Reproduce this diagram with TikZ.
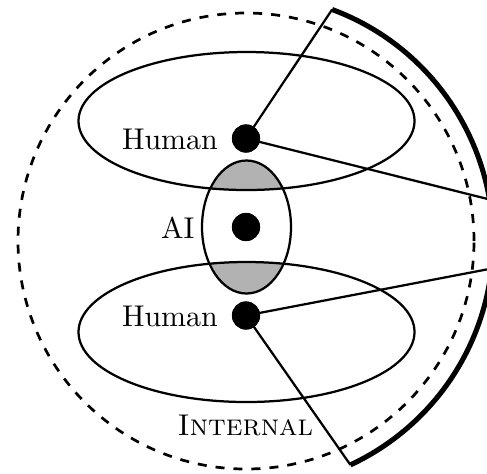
\documentclass[tikz,border=0pt]{standalone}
\usetikzlibrary{calc}
\begin{document}
\begin{tikzpicture}[x=0.33333pt,y=0.33333pt,
  thin line/.style={line width=0.75pt},
  dot/.style={circle,fill=black,inner sep=0pt,minimum size=9.4pt},
  lbl/.style={inner sep=0pt,font=\normalsize},
  shade/.style={fill=black!30}]
\useasboundingbox (0,0) rectangle (487,473);
% centres
\coordinate (C) at (246,232);
\coordinate (T) at (246.5,352);
\coordinate (B) at (246.5,141);
\coordinate (M) at (246.5,246);
% shaded overlaps
\begin{scope}
  \clip (M) ellipse [x radius=44.5, y radius=66.5];
  \fill[shade] (T) ellipse [x radius=168, y radius=69];
  \fill[shade] (B) ellipse [x radius=168, y radius=70];
\end{scope}
% outer dashed circle
\draw[dashed,line width=0.9pt] (C) circle [radius=228];
% ellipses
\draw[thin line] (T) ellipse [x radius=168, y radius=69];
\draw[thin line] (B) ellipse [x radius=168, y radius=70];
\draw[thin line] (M) ellipse [x radius=44.5, y radius=66.5];
% dots
\node[dot] (h1) at (246,334.5) {};
\node[dot] (ai) at (246,246) {};
\node[dot] (h2) at (246,157.5) {};
% arc end points
\coordinate (a1) at ($(C)+(69.6:247)$);
\coordinate (a2) at ($(C)+(9.7:247)$);
\coordinate (a3) at ($(C)+(-6.4:247)$);
\coordinate (a4) at ($(C)+(-65:247)$);
% connectors
\draw[thin line] (h1.center) -- (a1);
\draw[thin line] (h1.center) -- (a2);
\draw[thin line] (h2.center) -- (a3);
\draw[thin line] (h2.center) -- (a4);
% thick arc
\draw[line width=1.7pt,line join=miter] (a1) arc [start angle=69.6, end angle=-65, radius=247];
% redraw dots on top
\fill (h1) circle [radius=14];
\fill (ai) circle [radius=14];
\fill (h2) circle [radius=14];
% labels
\node[lbl,anchor=base east] (lh1) at (218.5,323.7) {Human};
\node[lbl,anchor=base east] (lai) at (195,234.7) {AI};
\node[lbl,anchor=base east] (lh2) at (218.5,147) {Human};
\node[lbl,anchor=base] (lin) at (245.3,38) {\textsc{Internal}};
\end{tikzpicture}
\end{document}
